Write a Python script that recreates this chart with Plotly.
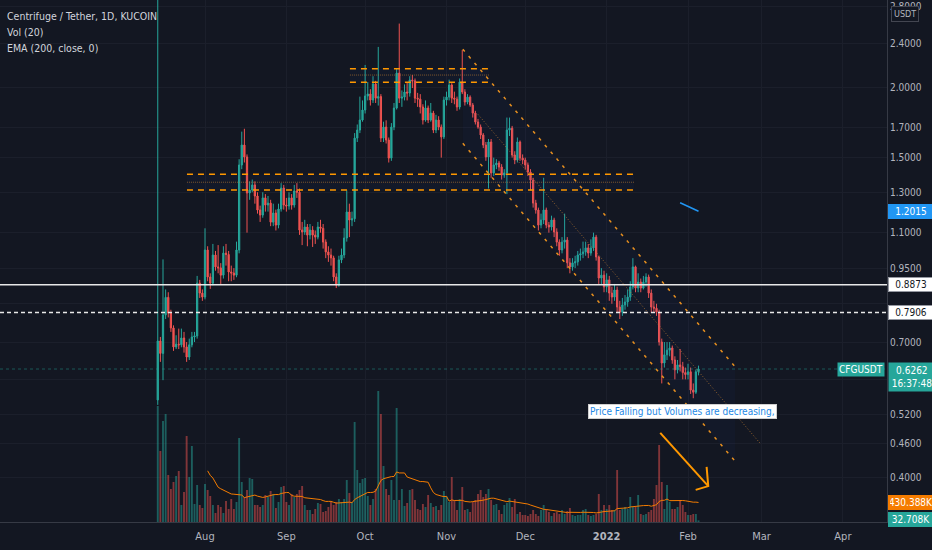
import numpy as np
import pandas as pd
import plotly.graph_objects as go

# daily CFG/USDT candles, 2021-07-14 .. 2022-02-05
first_open = 0.551
closes = [
    0.703, 0.668, 0.783, 0.842, 0.789, 0.742, 0.686, 0.694, 0.692, 0.712,
    0.686, 0.658, 0.692, 0.715, 0.718, 0.893, 0.857, 0.843, 1.024, 0.916,
    0.893, 1.003, 0.955, 0.951, 0.923, 1.011, 1.005, 0.935, 0.931, 0.923,
    1.024, 1.455, 1.580, 1.504, 1.296, 1.312, 1.340, 1.280, 1.208, 1.183,
    1.270, 1.233, 1.243, 1.149, 1.193, 1.135, 1.213, 1.323, 1.233, 1.228,
    1.270, 1.233, 1.307, 1.300, 1.112, 1.103, 1.126, 1.089, 1.112, 1.089,
    1.080, 1.126, 1.120, 1.058, 1.016, 1.003, 0.991, 0.916, 0.886, 0.983,
    1.003, 1.076, 1.198, 1.159, 1.165, 1.626, 1.681, 1.752, 1.826, 1.935,
    1.951, 1.903, 2.033, 1.918, 1.930, 1.626, 1.702, 1.613, 1.497, 1.702,
    1.841, 2.127, 1.918, 1.926, 1.967, 1.959, 2.067, 2.060, 1.918, 1.910,
    1.849, 1.752, 1.841, 1.752, 1.803, 1.681, 1.752, 1.702, 1.634, 1.903,
    1.926, 2.025, 1.918, 1.910, 1.849, 2.050, 1.967, 1.887, 1.926, 1.864,
    1.803, 1.738, 1.702, 1.647, 1.580, 1.504, 1.600, 1.408, 1.455, 1.467,
    1.443, 1.396, 1.408, 1.681, 1.694, 1.516, 1.485, 1.600, 1.497, 1.485,
    1.455, 1.413, 1.367, 1.243, 1.208, 1.135, 1.159, 1.208, 1.135, 1.126,
    1.159, 1.103, 1.058, 1.024, 1.058, 1.067, 0.971, 0.955, 0.971, 0.975,
    1.003, 1.008, 1.016, 1.033, 1.011, 1.033, 1.080, 0.995, 0.912, 0.923,
    0.879, 0.905, 0.857, 0.843, 0.868, 0.809, 0.792, 0.816, 0.826, 0.843,
    0.879, 0.955, 0.875, 0.897, 0.875, 0.897, 0.916, 0.857, 0.809, 0.805,
    0.792, 0.700, 0.642, 0.664, 0.677, 0.683, 0.650, 0.624, 0.637, 0.632,
    0.617, 0.612, 0.619, 0.574, 0.569, 0.619, 0.6262,
]
highs = [
    3.5, 0.715, 0.985, 0.87, 0.86, 0.80, 0.75, 0.72, 0.74, 0.74,
    0.73, 0.70, 0.71, 0.73, 0.73, 0.92, 0.905, 0.87, 1.12, 1.04,
    0.93, 1.05, 1.02, 1.045, 0.97, 1.04, 1.05, 1.02, 0.96, 0.95,
    1.06, 1.49, 1.67, 1.69, 1.52, 1.36, 1.37, 1.36, 1.30, 1.23,
    1.30, 1.29, 1.28, 1.26, 1.24, 1.21, 1.24, 1.35, 1.34, 1.27,
    1.30, 1.29, 1.34, 1.35, 1.32, 1.15, 1.16, 1.14, 1.14, 1.13,
    1.11, 1.15, 1.16, 1.14, 1.07, 1.04, 1.03, 1.00, 0.93, 1.00,
    1.03, 1.12, 1.31, 1.24, 1.20, 1.66, 1.72, 1.93, 1.90, 2.20,
    2.05, 1.99, 2.10, 2.06, 2.37, 1.95, 1.74, 1.75, 1.63, 1.73,
    1.88, 2.17, 2.61, 1.98, 2.03, 2.05, 2.10, 2.11, 2.08, 1.96,
    1.95, 1.87, 1.90, 1.86, 1.88, 1.82, 1.79, 1.78, 1.72, 1.93,
    1.97, 2.07, 2.04, 1.97, 1.93, 2.08, 2.34, 1.99, 1.95, 1.94,
    1.88, 1.82, 1.76, 1.72, 1.66, 1.60, 1.62, 1.62, 1.50, 1.49,
    1.48, 1.46, 1.43, 1.77, 1.77, 1.71, 1.54, 1.63, 1.61, 1.52,
    1.50, 1.47, 1.43, 1.38, 1.26, 1.22, 1.19, 1.38, 1.22, 1.15,
    1.18, 1.17, 1.12, 1.07, 1.08, 1.19, 1.08, 0.99, 0.99, 1.00,
    1.02, 1.03, 1.06, 1.06, 1.05, 1.07, 1.10, 1.09, 1.00, 0.95,
    0.94, 0.93, 0.92, 0.88, 0.89, 0.88, 0.83, 0.84, 0.85, 0.87,
    0.90, 0.99, 0.96, 0.93, 0.91, 0.92, 0.93, 0.925, 0.87, 0.83,
    0.82, 0.80, 0.71, 0.70, 0.70, 0.70, 0.69, 0.66, 0.65, 0.68,
    0.645, 0.63, 0.64, 0.63, 0.59, 0.625, 0.635,
]
lows = [
    0.540, 0.645, 0.598, 0.77, 0.775, 0.73, 0.675, 0.68, 0.68, 0.685,
    0.67, 0.645, 0.65, 0.685, 0.70, 0.71, 0.84, 0.83, 0.835, 0.90,
    0.872, 0.885, 0.94, 0.93, 0.89, 0.91, 0.96, 0.90, 0.90, 0.905,
    0.915, 1.01, 1.43, 1.47, 1.10, 1.26, 1.30, 1.24, 1.19, 1.15,
    1.17, 1.20, 1.20, 1.13, 1.13, 1.11, 1.12, 1.20, 1.21, 1.20,
    1.21, 1.21, 1.22, 1.27, 1.09, 1.045, 1.09, 1.04, 1.07, 1.037,
    1.05, 1.07, 1.10, 1.03, 0.99, 0.975, 0.96, 0.90, 0.875, 0.88,
    0.97, 0.99, 1.06, 1.08, 1.13, 1.15, 1.60, 1.66, 1.74, 1.80,
    1.90, 1.86, 1.88, 1.88, 1.86, 1.60, 1.60, 1.59, 1.47, 1.48,
    1.68, 1.83, 1.88, 1.85, 1.90, 1.90, 1.93, 2.00, 1.88, 1.85,
    1.80, 1.72, 1.74, 1.73, 1.74, 1.66, 1.66, 1.68, 1.50, 1.62,
    1.86, 1.90, 1.88, 1.87, 1.82, 1.83, 1.95, 1.86, 1.87, 1.85,
    1.77, 1.72, 1.69, 1.62, 1.56, 1.48, 1.32, 1.38, 1.39, 1.43,
    1.42, 1.37, 1.38, 1.29, 1.64, 1.50, 1.46, 1.47, 1.48, 1.46,
    1.43, 1.39, 1.31, 1.22, 1.19, 1.11, 1.12, 1.14, 1.12, 1.10,
    1.11, 1.08, 1.04, 1.00, 1.01, 1.03, 0.95, 0.93, 0.94, 0.95,
    0.96, 0.98, 0.99, 1.00, 0.99, 1.00, 1.02, 0.98, 0.89, 0.89,
    0.86, 0.86, 0.83, 0.82, 0.83, 0.79, 0.77, 0.78, 0.80, 0.81,
    0.83, 0.87, 0.86, 0.86, 0.86, 0.87, 0.88, 0.84, 0.79, 0.79,
    0.78, 0.69, 0.59, 0.63, 0.65, 0.66, 0.64, 0.60, 0.615, 0.62,
    0.60, 0.60, 0.60, 0.565, 0.555, 0.565, 0.61,
]
# volume in thousands of CFG
volumes_k = [
    2378, 1456, 2071, 2214, 964, 677, 820, 943, 1046, 349,
    615, 1763, 923, 1558, 369, 759, 349, 287, 779, 656,
    533, 349, 185, 349, 308, 185, 431, 267, 472, 267,
    410, 1722, 820, 513, 656, 902, 882, 349, 349, 308,
    349, 554, 513, 636, 574, 287, 410, 718, 738, 410,
    349, 574, 513, 574, 656, 738, 349, 246, 246, 164,
    267, 390, 369, 205, 226, 308, 410, 349, 410, 472,
    410, 472, 861, 595, 410, 2050, 1066, 800, 882, 902,
    533, 349, 472, 677, 2686, 2214, 1148, 677, 554, 861,
    451, 2337, 451, 677, 328, 390, 656, 677, 451, 267,
    246, 369, 308, 554, 390, 308, 328, 246, 349, 636,
    533, 410, 923, 451, 246, 472, 718, 246, 267, 205,
    410, 451, 574, 656, 513, 574, 677, 451, 349, 369,
    246, 164, 349, 390, 492, 308, 472, 164, 205, 144,
    144, 123, 164, 246, 164, 123, 246, 349, 267, 205,
    123, 185, 205, 164, 246, 164, 226, 287, 144, 123,
    144, 144, 246, 267, 144, 123, 144, 164, 574, 246,
    349, 267, 349, 246, 246, 1066, 246, 267, 308, 267,
    513, 308, 308, 554, 164, 144, 164, 205, 246, 472,
    759, 1579, 820, 267, 759, 410, 267, 267, 308, 451,
    349, 205, 144, 144, 164, 164, 33,
]

level_solid = 0.8873
level_dashed = 0.7906
last_price = 0.6262
ema_label = 1.2015
vol_ma_label = "430.388K"
vol_last_label = "32.708K"
top_zone = {"x": ["2021-09-25 05:00", "2021-11-17 05:00"], "levels": [2.166, 2.110, 2.048]}
mid_zone = {"x": ["2021-07-25 03:00", "2022-01-11 12:00"], "levels": [1.401, 1.355, 1.312]}
chan_x = ["2021-11-07 05:00", "2022-02-18 22:00"]
chan_upper = [2.347, 0.632]
chan_lower = [1.591, 0.428]
chan_mid_x = ["2021-11-13 00:00", "2022-02-28 10:00"]
chan_mid = [1.793, 0.461]
arrow_x = ["2022-01-21 10:00", "2022-02-08 17:00"]
arrow_y = [0.481, 0.386]
head_x = ["2022-02-08 02:00", "2022-02-08 17:00", "2022-02-03 22:00"]
head_y = [0.418, 0.386, 0.380]
note_text = "Price Falling but Volumes are decreasing,"
note_pos = ("2022-01-29 17:00", 0.5264)

month_ticks = ["2021-08-01", "2021-09-01", "2021-10-01", "2021-11-01", "2021-12-01",
               "2022-01-01", "2022-02-01", "2022-03-01", "2022-04-01"]
month_text = ["Aug", "Sep", "Oct", "Nov", "Dec", "<b>2022</b>", "Feb", "Mar", "Apr"]
price_ticks = [2.8, 2.4, 2.0, 1.7, 1.5, 1.3, 1.1, 0.95, 0.82, 0.7, 0.6, 0.52, 0.46, 0.4]
price_text = ["2.8000", "2.4000", "2.0000", "1.7000", "1.5000", "1.3000", "1.1000",
              "0.9500", "", "0.7000", "", "0.5200", "0.4600", "0.4000"]

UP = "#26a69a"
DOWN = "#ef5350"
BG = "#131722"
GRID = "#1b1f2b"
TXT = "#b2b5be"
ORANGE = "#ff9800"
FONT = "Liberation Sans Narrow, DejaVu Sans Condensed, Roboto Condensed, Roboto, sans-serif"

dates = pd.date_range("2021-07-14", periods=len(closes), freq="D")
opens = [first_open] + closes[:-1]
highs = [max(h, o, c) for h, o, c in zip(highs, opens, closes)]
lows = [min(l, o, c) for l, o, c in zip(lows, opens, closes)]

vol_colors = ["rgba(38,166,154,0.5)" if c >= o else "rgba(239,83,80,0.5)"
              for o, c in zip(opens, closes)]
vol_ma = pd.Series(volumes_k).rolling(20).mean()

# EMA 200 seeded with the SMA like TradingView
n = 200
ema = [None] * len(closes)
ema[n - 1] = sum(closes[:n]) / n
alpha = 2 / (n + 1)
for i in range(n, len(closes)):
    ema[i] = alpha * closes[i] + (1 - alpha) * ema[i - 1]

x_range = ["2021-05-14 21:43", "2022-04-17 19:12"]

fig = go.Figure()

# volume on the hidden primary axis, price overlays it
fig.add_trace(go.Bar(x=dates, y=volumes_k, marker_color=vol_colors, marker_line_width=0,
                     width=0.72 * 86400000, yaxis="y", hoverinfo="skip"))
fig.add_trace(go.Scatter(x=dates, y=vol_ma, mode="lines", line=dict(color="#f57c00", width=1),
                         yaxis="y", hoverinfo="skip"))


# channel backgrounds
def band(xs, top, bottom):
    fig.add_trace(go.Scatter(x=[xs[0], xs[1], xs[1], xs[0], xs[0]],
                             y=[top[0], top[1], bottom[1], bottom[0], top[0]],
                             fill="toself", fillcolor="rgba(41,98,255,0.035)",
                             mode="lines", line=dict(width=0), yaxis="y2", hoverinfo="skip"))


band(top_zone["x"], [top_zone["levels"][0]] * 2, [top_zone["levels"][2]] * 2)
band(mid_zone["x"], [mid_zone["levels"][0]] * 2, [mid_zone["levels"][2]] * 2)
band(chan_x, chan_upper, chan_lower)

# reference price levels over the full width
fig.add_trace(go.Scatter(x=x_range, y=[last_price] * 2, mode="lines",
                         line=dict(color="rgba(38,166,154,0.45)", width=1, dash="dot"), yaxis="y2"))
fig.add_trace(go.Scatter(x=x_range, y=[level_solid] * 2, mode="lines",
                         line=dict(color="#e8e8e8", width=1.5), yaxis="y2"))
fig.add_trace(go.Scatter(x=x_range, y=[level_dashed] * 2, mode="lines",
                         line=dict(color="#e8e8e8", width=1.5, dash="4px,3px"), yaxis="y2"))

fig.add_trace(go.Candlestick(
    x=dates, open=opens, high=highs, low=lows, close=closes, yaxis="y2",
    increasing=dict(line=dict(color=UP, width=1), fillcolor=UP),
    decreasing=dict(line=dict(color=DOWN, width=1), fillcolor=DOWN),
    hoverinfo="skip",
))

fig.add_trace(go.Scatter(x=dates, y=ema, mode="lines", line=dict(color="#2196f3", width=1.5),
                         yaxis="y2", hoverinfo="skip"))

# horizontal channels
for zone in (top_zone, mid_zone):
    hi, mid, lo = zone["levels"]
    for lvl in (hi, lo):
        fig.add_trace(go.Scatter(x=zone["x"], y=[lvl, lvl], mode="lines",
                                 line=dict(color=ORANGE, width=1.5, dash="6px,5px"), yaxis="y2"))
    fig.add_trace(go.Scatter(x=zone["x"], y=[mid, mid], mode="lines",
                             line=dict(color="rgba(200,130,50,0.6)", width=1, dash="1px,1px"), yaxis="y2"))

# descending channel
for ys in (chan_upper, chan_lower):
    fig.add_trace(go.Scatter(x=chan_x, y=ys, mode="lines",
                             line=dict(color="#e8901f", width=1.5, dash="3px,6px"), yaxis="y2"))
fig.add_trace(go.Scatter(x=chan_mid_x, y=chan_mid, mode="lines",
                         line=dict(color="rgba(200,130,50,0.7)", width=1, dash="1px,2px"), yaxis="y2"))

# hand drawn arrow
fig.add_trace(go.Scatter(x=arrow_x, y=arrow_y, mode="lines",
                         line=dict(color=ORANGE, width=2), yaxis="y2"))
fig.add_trace(go.Scatter(x=head_x, y=head_y, mode="lines",
                         line=dict(color=ORANGE, width=2), yaxis="y2"))

PLOT_H = 522


def py(pix):
    return 1 - pix / PLOT_H


ann = []
# legend texts top-left
legend_lines = [("Centrifuge / Tether, 1D, KUCOIN", 16, 10.5), ("Vol (20)", 32, 10.5),
                ("EMA (200, close, 0)", 48, 10.5)]
for txt, yp, sz in legend_lines:
    ann.append(dict(text=txt, xref="paper", yref="paper", x=0.006, y=py(yp), xanchor="left",
                    yanchor="middle", showarrow=False, font=dict(color="#d1d4dc", size=sz, family=FONT)))

# note box
ann.append(dict(text=note_text, xref="x", yref="y2", x=note_pos[0], y=np.log10(note_pos[1]),
                showarrow=False, bgcolor="#ffffff", bordercolor="#d0d0d0", borderwidth=1, borderpad=1,
                font=dict(color="#1e88e5", size=10, family=FONT)))


# price scale labels
def axis_label(text, yval, bg, fg, ref="y2", border=None):
    ann.append(dict(text=text, xref="paper", yref=ref, x=1, y=yval, xanchor="left", yanchor="middle",
                    xshift=1, showarrow=False, bgcolor=bg, bordercolor=border or bg, borderwidth=1,
                    borderpad=1, width=42, align="center",
                    font=dict(color=fg, size=10, family=FONT)))


axis_label(f"{ema_label:.4f}", np.log10(ema_label), "#2196f3", "#ffffff")
axis_label(f"{level_solid:.4f}", np.log10(level_solid), "#ffffff", BG, border="#9598a1")
axis_label(f"{level_dashed:.4f}", np.log10(level_dashed), "#ffffff", BG, border="#9598a1")
ann.append(dict(text=f"{last_price:.4f}<br>16:37:48", xref="paper", yref="y2", x=1,
                y=np.log10(last_price), xanchor="left", yanchor="top", yshift=7, xshift=1,
                showarrow=False, bgcolor=UP, borderpad=2, width=42, align="center",
                font=dict(color="#ffffff", size=10, family=FONT)))
ann.append(dict(text="CFGUSDT", xref="paper", yref="y2", x=1, y=np.log10(last_price),
                xanchor="right", yanchor="middle", xshift=-2, showarrow=False, bgcolor=UP,
                borderpad=1, font=dict(color="#ffffff", size=10, family=FONT)))
axis_label(vol_ma_label, py(502.5), "#f57c00", "#ffffff", ref="paper")
axis_label(vol_last_label, py(519), UP, "#ffffff", ref="paper")
ann.append(dict(text="USDT", xref="paper", yref="paper", x=1, y=py(14), xanchor="left",
                yanchor="middle", xshift=4, showarrow=False, bgcolor=BG, bordercolor="#434651",
                borderwidth=1, borderpad=2, font=dict(color=TXT, size=9, family=FONT)))

fig.update_layout(
    width=932, height=550,
    margin=dict(l=0, r=45, t=0, b=28, autoexpand=False),
    paper_bgcolor=BG, plot_bgcolor=BG,
    showlegend=False,
    font=dict(family=FONT, color=TXT, size=11),
    annotations=ann,
    xaxis=dict(type="date", range=x_range, tickvals=month_ticks, ticktext=month_text,
               showgrid=True, gridcolor=GRID, gridwidth=1, zeroline=False,
               showline=True, linecolor="#363a45", linewidth=1, mirror=False,
               ticks="", ticklabelstandoff=4, tickfont=dict(color=TXT, size=11, family=FONT),
               rangeslider=dict(visible=False), fixedrange=True, automargin=False),
    yaxis=dict(range=[0, 10701], visible=False, fixedrange=True),
    yaxis2=dict(type="log", overlaying="y", side="right",
                range=[np.log10(0.3328), np.log10(2.877)],
                tickvals=price_ticks, ticktext=price_text,
                showgrid=True, gridcolor=GRID, gridwidth=1, zeroline=False,
                showline=True, linecolor="#363a45", linewidth=1,
                ticks="", tickfont=dict(color=TXT, size=10, family=FONT),
                fixedrange=True, automargin=False),
)

fig.write_html("out.html", config={"displayModeBar": False},
               post_script="document.body.style.margin='0px';")
